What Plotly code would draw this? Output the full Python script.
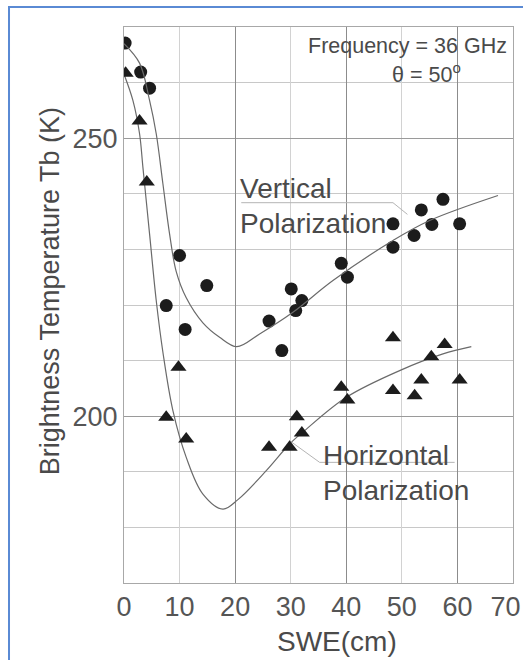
import plotly.graph_objects as go

# ---- data ----
V_SWE = [0.2, 3.0, 4.6, 7.6, 10.0, 11.0, 14.9, 26.1, 28.4, 30.1, 30.9, 32.0,
         39.1, 40.2, 48.4, 48.4, 52.2, 53.5, 55.4, 57.4, 60.4]
V_TB = [267.1, 261.9, 259.0, 219.9, 228.9, 215.6, 223.5, 217.1, 211.8, 222.9,
        219.0, 220.8, 227.5, 225.0, 234.6, 230.4, 232.5, 237.1, 234.5, 239.0, 234.6]

H_SWE = [0.3, 2.8, 4.1, 7.6, 9.8, 11.2, 26.1, 29.8, 31.1, 32.0, 39.1, 40.2,
         48.4, 48.4, 52.3, 53.5, 55.3, 57.7, 60.4]
H_TB = [261.7, 253.1, 242.1, 199.8, 208.8, 195.9, 194.4, 194.4, 199.9, 197.0,
        205.2, 202.9, 214.1, 204.6, 203.7, 206.5, 210.7, 212.9, 206.5]

V_FIT_SWE = [0, 2.8, 4.6, 5.8, 7.0, 8.2, 9.4, 11.2, 14.2, 17.2, 20.3, 24.4,
             30.4, 37.6, 48.4, 55.0, 67.3]
V_FIT_TB = [267.0, 263.5, 256.8, 250.8, 241.8, 232.8, 226.0, 221.3, 216.8,
            214.2, 212.5, 214.8, 218.7, 224.4, 231.6, 235.2, 239.7]

H_FIT_SWE = [0, 1.6, 2.8, 3.4, 4.6, 5.8, 7.0, 8.8, 11.2, 14.2, 17.8, 20.5,
             25.6, 29.8, 32.5, 40.0, 49.6, 57.4, 62.5]
H_FIT_TB = [261.5, 256.8, 250.8, 244.8, 232.8, 220.8, 211.5, 201.0, 192.6,
            186.0, 183.3, 185.0, 190.2, 195.0, 197.4, 203.4, 208.2, 211.2, 212.5]

# leader lines of the curve labels
V_LEAD_SWE = [21.1, 48.4, 51.0]
V_LEAD_TB = [238.4, 238.4, 236.3]
H_LEAD_SWE = [59.5, 35.2, 29.8]
H_LEAD_TB = [191.7, 191.7, 195.6]

X_TICKS = [0, 10, 20, 30, 40, 50, 60, 70]
X_TICK_TEXT = ["0", "10", "20", "30", "40", "50", "60", "70\u00a0\u00a0"]
X_MAJOR_GRID = [20, 40, 60]
Y_TICKS = [200, 250]
Y_GRID = [170, 180, 190, 200, 210, 220, 230, 240, 250, 260, 270]

FONT = "Liberation Sans, Arial, sans-serif"
TXT = "#4a4a4a"

fig = go.Figure()

fig.add_trace(go.Scatter(x=V_FIT_SWE, y=V_FIT_TB, mode="lines",
                         line=dict(color="#6a6a6a", width=1.2, shape="spline"),
                         xaxis="x2", showlegend=False, hoverinfo="skip"))
fig.add_trace(go.Scatter(x=H_FIT_SWE, y=H_FIT_TB, mode="lines",
                         line=dict(color="#6a6a6a", width=1.2, shape="spline"),
                         showlegend=False, hoverinfo="skip"))
fig.add_trace(go.Scatter(x=V_LEAD_SWE, y=V_LEAD_TB, mode="lines",
                         line=dict(color="#b4b4b4", width=1),
                         showlegend=False, hoverinfo="skip"))
fig.add_trace(go.Scatter(x=H_LEAD_SWE, y=H_LEAD_TB, mode="lines",
                         line=dict(color="#b4b4b4", width=1),
                         showlegend=False, hoverinfo="skip"))
fig.add_trace(go.Scatter(x=V_SWE, y=V_TB, mode="markers", name="Vertical",
                         marker=dict(symbol="circle", size=13, color="#1c1c1c"),
                         showlegend=False))
fig.add_trace(go.Scatter(x=H_SWE, y=H_TB, mode="markers", name="Horizontal",
                         marker=dict(symbol="triangle-up", size=14, color="#1c1c1c"),
                         showlegend=False))

ann_font = dict(family=FONT, size=28, color=TXT)
annotations = [
    dict(x=69.3, y=266.6, text="Frequency = 36 GHz", xanchor="right", yanchor="middle",
         showarrow=False, font=dict(family=FONT, size=21.5, color=TXT)),
    dict(x=47.8, y=261.7, text="θ = 50<sup>o</sup>", xanchor="left", yanchor="middle",
         showarrow=False, font=dict(family=FONT, size=21.5, color=TXT)),
    dict(x=20.6, y=241.0, text="Vertical", xanchor="left", yanchor="middle",
         showarrow=False, font=ann_font),
    dict(x=20.6, y=234.7, text="Polarization", xanchor="left", yanchor="middle",
         showarrow=False, font=ann_font),
    dict(x=35.5, y=192.9, text="Horizontal", xanchor="left", yanchor="middle",
         showarrow=False, font=ann_font),
    dict(x=35.5, y=186.6, text="Polarization", xanchor="left", yanchor="middle",
         showarrow=False, font=ann_font),
    dict(x=38.4, y=-0.106, xref="x", yref="paper", text="SWE(cm)", xanchor="center",
         yanchor="middle", showarrow=False, font=ann_font),
    dict(x=-0.19, xref="paper", y=0.525, yref="paper", text="Brightness Temperature Tb (K)",
         textangle=-90, xanchor="center", yanchor="middle", showarrow=False,
         font=dict(family=FONT, size=27, color=TXT)),
]

fig.update_layout(
    width=523, height=660,
    margin=dict(l=124, r=10, t=27, b=77, autoexpand=False),
    paper_bgcolor="white", plot_bgcolor="white",
    font=dict(family=FONT, color=TXT),
    annotations=annotations,
    xaxis=dict(range=[0, 70], tickvals=X_TICKS, ticktext=X_TICK_TEXT, showgrid=True,
               gridcolor="#d2d2d2", gridwidth=1, zeroline=False, showline=True, mirror=True,
               linecolor="#a8a8a8", linewidth=1, ticks="", ticklabeloverflow="allow",
               automargin=False,
               tickfont=dict(family=FONT, size=27, color="#555555")),
    xaxis2=dict(range=[0, 70], overlaying="x", tickvals=X_MAJOR_GRID, showgrid=True,
                gridcolor="#8c8c8c", gridwidth=1, zeroline=False, automargin=False,
                showticklabels=False, ticks="", showline=False),
    yaxis=dict(range=[170, 270], tickvals=Y_TICKS, showgrid=True, gridcolor="#9a9a9a",
               gridwidth=1, zeroline=False, showline=True, mirror=True,
               linecolor="#a8a8a8", linewidth=1, ticks="", automargin=False,
               tickfont=dict(family=FONT, size=27, color="#555555"),
               minor=dict(tickvals=Y_GRID, showgrid=True, gridcolor="#c8c8c8", ticks="")),
    shapes=[dict(type="rect", xref="paper", yref="paper", x0=-0.2956, x1=1.2,
                 y0=-0.3, y1=1.036, line=dict(color="#5a8ad4", width=2),
                 fillcolor="rgba(0,0,0,0)", layer="above")],
)

fig.write_html("out.html")
